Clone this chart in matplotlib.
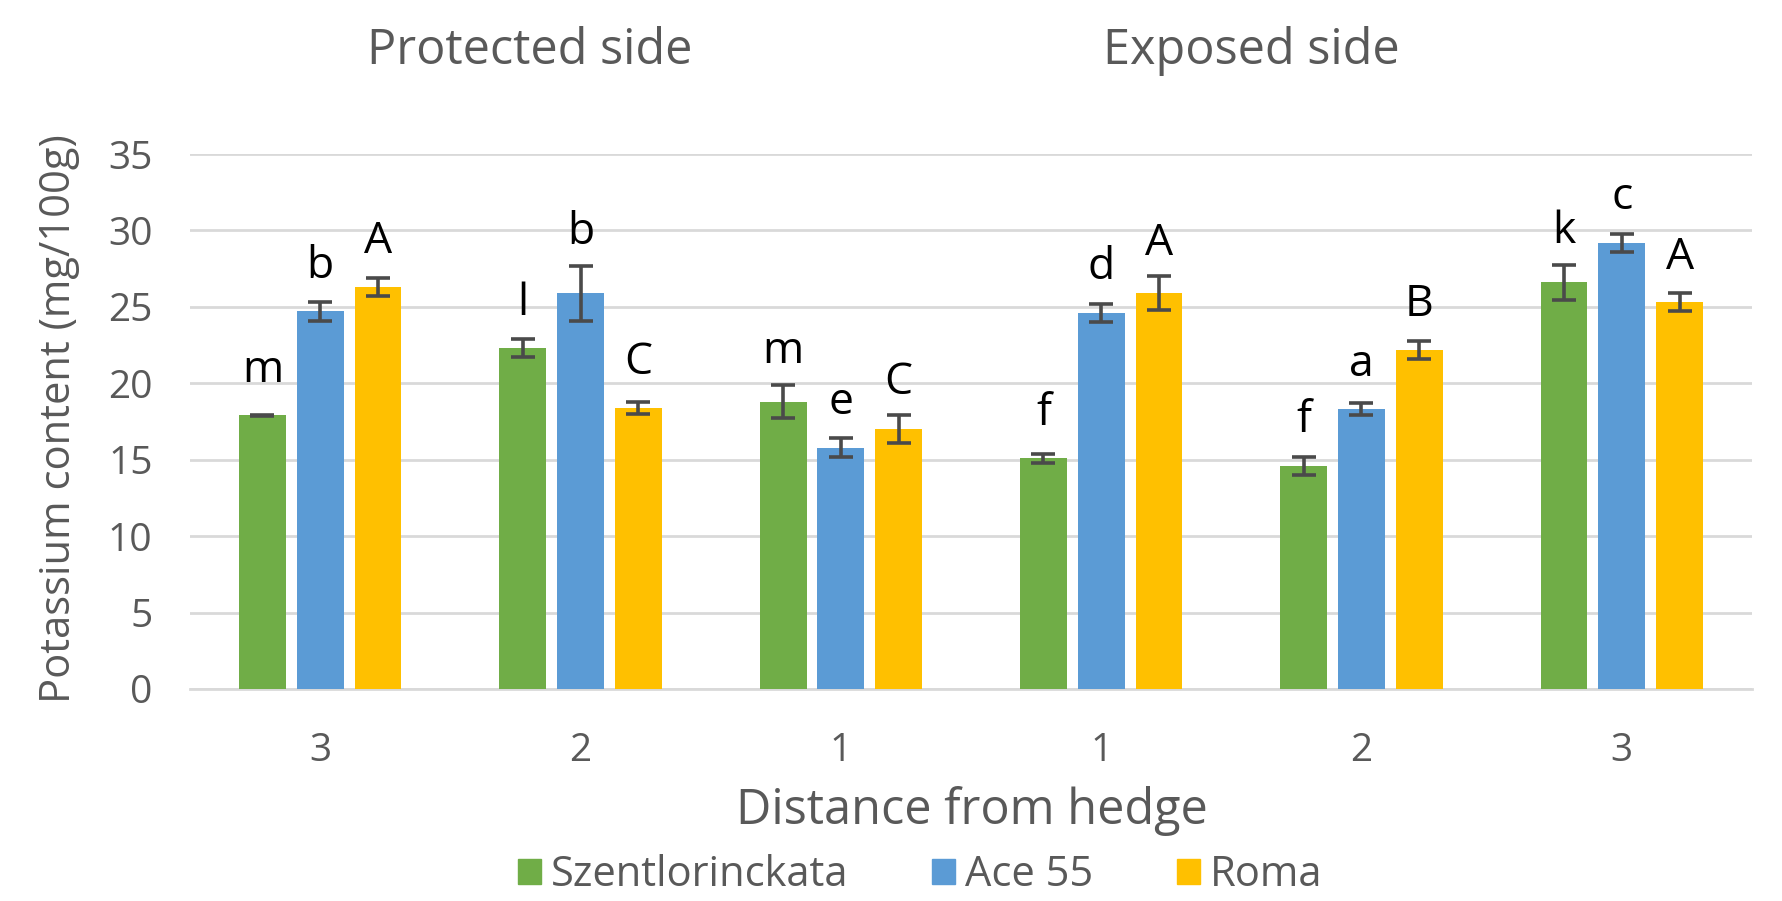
import numpy as np
import matplotlib
matplotlib.use("agg")
import matplotlib.pyplot as plt
from matplotlib.patches import Patch

plt.rcParams['font.family'] = ['Open Sans', 'DejaVu Sans']

# potassium content per distance class, protected side (3,2,1) then exposed side (1,2,3)
distances = ["3", "2", "1", "1", "2", "3"]
varieties = ["Szentlorinckata", "Ace 55", "Roma"]

szent = [17.9, 22.3, 18.8, 15.1, 14.6, 26.6]
ace = [24.7, 25.9, 15.8, 24.6, 18.3, 29.2]
roma = [26.3, 18.4, 17.0, 25.9, 22.2, 25.3]

szent_err = [0.05, 0.6, 1.1, 0.3, 0.6, 1.15]
ace_err = [0.6, 1.8, 0.6, 0.6, 0.4, 0.6]
roma_err = [0.6, 0.4, 0.9, 1.1, 0.6, 0.6]

# significance letters
szent_sig = ["m", "l", "m", "f", "f", "k"]
ace_sig = ["b", "b", "e", "d", "a", "c"]
roma_sig = ["A", "C", "C", "A", "B", "A"]

colors = ["#70AD47", "#5B9BD5", "#FFC000"]
grey = "#595959"

fig = plt.figure(figsize=(17.83, 9.01), dpi=100)
ax = fig.add_axes([0.1066, 0.2353, 0.876, 0.5937])

x = np.arange(len(distances))
width = 0.18
step = 0.222

series = [(szent, szent_err, szent_sig), (ace, ace_err, ace_sig), (roma, roma_err, roma_sig)]
for i, (vals, errs, sig) in enumerate(series):
    xpos = x + (i - 1) * step
    ax.bar(xpos, vals, width, color=colors[i], zorder=3)
    ax.errorbar(xpos, vals, yerr=errs, fmt="none", ecolor="#4a4a4a",
                elinewidth=2.6, capsize=8.5, capthick=2.6, zorder=4)
    for xp, v, e, s in zip(xpos, vals, errs, sig):
        ax.text(xp, v + max(2.2, e + 1.4), s, ha="center", va="baseline",
                fontsize=32, color="black", zorder=5)

ax.set_xlim(-0.5, len(distances) - 0.5)
ax.set_ylim(0, 35)
ax.set_yticks(np.arange(0, 36, 5))
ax.set_xticks(x)
ax.set_xticklabels(distances)
ax.yaxis.grid(True, color="#d9d9d9", linewidth=2, zorder=0)
for side in ["top", "right", "left"]:
    ax.spines[side].set_visible(False)
ax.spines["bottom"].set_color("#d9d9d9")
ax.spines["bottom"].set_linewidth(2)
ax.tick_params(axis="both", length=0, labelsize=28, colors=grey)
ax.tick_params(axis="x", pad=31)
ax.tick_params(axis="y", pad=27)

fig.text(0.033, 0.535, "Potassium content (mg/100g)", rotation=90,
         ha="center", va="center", fontsize=30, color=grey)
fig.text(0.545, 0.100, "Distance from hedge", ha="center", va="center",
         fontsize=35, color=grey)
fig.text(0.297, 0.943, "Protected side", ha="center", va="center",
         fontsize=35, color=grey)
fig.text(0.702, 0.943, "Exposed side", ha="center", va="center",
         fontsize=35, color=grey)

handles = [Patch(color=c, label=l) for c, l in zip(colors, varieties)]
fig.legend(handles=handles, loc="center", bbox_to_anchor=(0.516, 0.029), ncol=3,
           frameon=False, fontsize=30, handlelength=0.55, handleheight=0.55,
           handletextpad=0.25, columnspacing=2.0, labelcolor=grey)

fig.savefig("out.png", dpi=100)
